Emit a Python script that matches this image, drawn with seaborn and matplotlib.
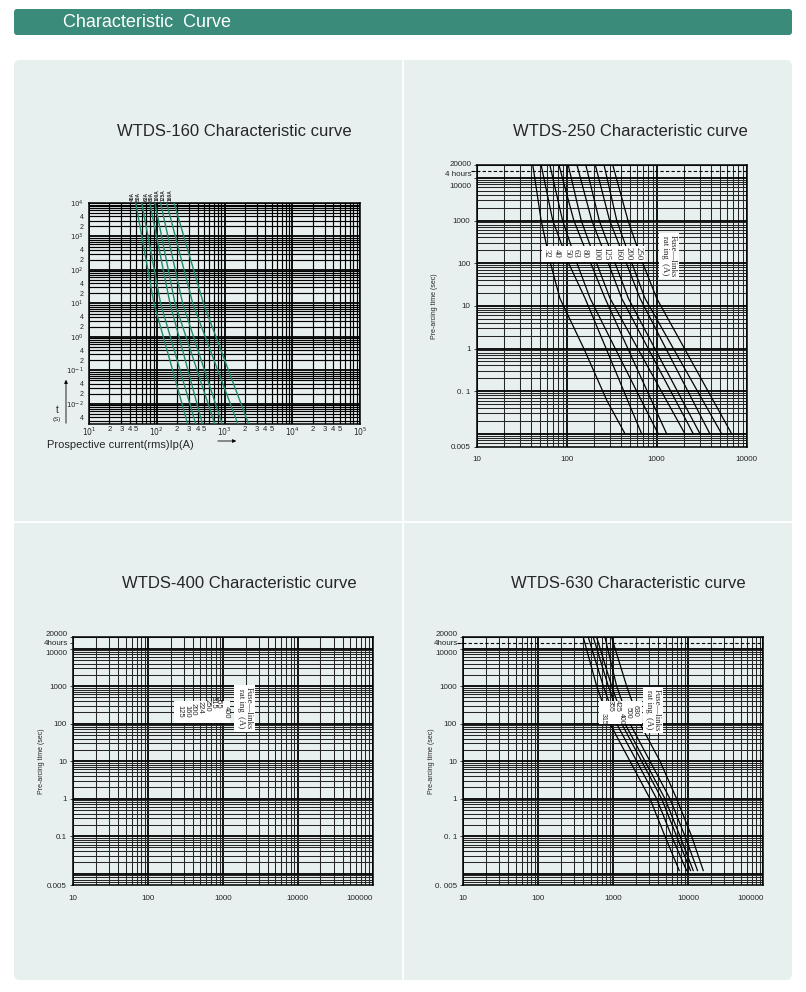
import numpy as np
import pandas as pd
import matplotlib
matplotlib.use("Agg")
import matplotlib.pyplot as plt
from matplotlib.patches import FancyBboxPatch, Rectangle
import seaborn as sns

W, H = 806, 992
PANEL = "#e8f0ef"
HEADER = "#3b8b7a"
GREEN = "#1f8a6e"

# ---- WTDS-160 (green lines, t at top / 10 s / bottom)
t160 = [1e4, 10, 2.5e-3]
ratings160 = ["40A", "50A", "63A", "80A", "100A", "125A", "160A"]
i160_top = [49, 60, 79, 94, 114, 140, 180]
i160_mid = [91, 114, 157, 186, 241, 340, 489]
i160_bot = [286, 376, 472, 719, 923, 1577, 2268]
xt160 = [10, 20, 30, 40, 50, 100, 200, 300, 400, 500, 1e3, 2e3, 3e3, 4e3, 5e3,
         1e4, 2e4, 3e4, 4e4, 5e4, 1e5]
xl160 = ["$10^1$", "2", "3", "4", "5", "$10^2$", "2", "3", "4", "5", "$10^3$", "2", "3",
         "4", "5", "$10^4$", "2", "3", "4", "5", "$10^5$"]
yt160 = [1e4, 4e3, 2e3, 1e3, 400, 200, 100, 40, 20, 10, 4, 2, 1, 0.4, 0.2, 0.1,
         0.04, 0.02, 0.01, 0.004]
yl160 = ["$10^4$", "4", "2", "$10^3$", "4", "2", "$10^2$", "4", "2", "$10^1$", "4", "2",
         "$10^0$", "4", "2", "$10^{-1}$", "4", "2", "$10^{-2}$", "4"]

# ---- WTDS-250
t250 = [20000, 1000, 100, 15, 1, 0.06, 0.01]
ratings250 = ["32", "40", "50", "63", "80", "100", "125", "160", "200", "250"]
i250 = {
    "32": [42, 52, 66, 84, 155, 280, 445],
    "40": [52, 70, 105, 160, 274, 477, 681],
    "50": [65, 90, 130, 182, 346, 677, 1040],
    "63": [82, 120, 185, 267, 478, 877, 1290],
    "80": [104, 145, 215, 303, 616, 1288, 2060],
    "100": [130, 190, 290, 408, 804, 1628, 2550],
    "125": [163, 230, 345, 484, 953, 1931, 3030],
    "160": [208, 300, 460, 653, 1265, 2516, 3900],
    "200": [260, 360, 530, 741, 1532, 3258, 5270],
    "250": [325, 480, 700, 1000, 2034, 4255, 6810],
}
lab250_x = [60, 77, 102, 127, 160, 215, 278, 372, 484, 623]
lab250_y = [169] * 10

# ---- WTDS-400 (labels only)
ratings400 = ["125", "160", "200", "224", "250", "315", "355", "400"]
lab400_x = [267, 327, 402, 493, 607, 743, 867, 1122]
lab400_y = [215, 215, 249, 265, 305, 361, 361, 203]

# ---- WTDS-630
t630 = [20000, 1000, 100, 10, 1, 0.1, 0.012]
ratings630 = ["315", "355", "400", "425", "500", "630"]
i630 = {
    "315": [398, 600, 903, 1668, 3083, 4882, 7590],
    "355": [464, 736, 1108, 2048, 3784, 5995, 9500],
    "400": [541, 858, 1292, 2386, 4406, 6985, 10740],
    "425": [600, 950, 1431, 2643, 4882, 7743, 11660],
    "500": [774, 1108, 1668, 3083, 5695, 9031, 13300],
    "630": [950, 1506, 2268, 4193, 6985, 11080, 15850],
}
lab630_x = [740, 900, 1300, 1130, 1560, 1930]
lab630_y = [138, 290, 138, 290, 190, 215]

yt_big = [20000, 14400, 10000, 1000, 100, 10, 1, 0.1, 0.005]

sns.set_style("white")
plt.rcParams["font.family"] = ["Liberation Sans", "DejaVu Sans"]
plt.rcParams["mathtext.fontset"] = "dejavusans"

fig = plt.figure(figsize=(W / 100, H / 100), dpi=100)
fig.patch.set_facecolor("white")

# background canvas in pixel coordinates
bg = fig.add_axes([0, 0, 1, 1])
bg.set_xlim(0, W)
bg.set_ylim(H, 0)
bg.axis("off")
bg.add_patch(FancyBboxPatch((14, 9), 778, 26, boxstyle="round,pad=0,rounding_size=3",
                            fc=HEADER, ec="none"))
bg.text(63, 22.5, "Characteristic  Curve", color="white", fontsize=13, va="center")
bg.add_patch(FancyBboxPatch((14, 60), 778, 920, boxstyle="round,pad=0,rounding_size=6",
                            fc=PANEL, ec="none"))
bg.plot([403, 403], [60, 980], color="white", lw=1.3)
bg.plot([14, 792], [522, 522], color="white", lw=1.3)
for cx, cy, title in [(234, 132, "WTDS-160 Characteristic curve"),
                      (630, 132, "WTDS-250 Characteristic curve"),
                      (239, 583, "WTDS-400 Characteristic curve"),
                      (628, 583, "WTDS-630 Characteristic curve")]:
    bg.text(cx, cy, title, ha="center", va="center", fontsize=12)


def px_axes(left, top, right, bottom):
    return fig.add_axes([left / W, 1 - bottom / H, (right - left) / W, (bottom - top) / H])


def log_grid(ax, xlo, xhi, ylo, yhi, major_lw=1.3, minor_lw=0.75, minor_col="#262626"):
    xl, xh = ax.get_xlim()
    yl, yh = ax.get_ylim()
    for k in range(xlo, xhi + 1):
        for m in range(1, 10):
            v = m * 10.0 ** k
            if xl <= v <= xh:
                ax.axvline(v, color="k" if m == 1 else minor_col,
                           lw=major_lw if m == 1 else minor_lw, zorder=1)
    for k in range(ylo, yhi + 1):
        for m in range(1, 10):
            v = m * 10.0 ** k
            if yl <= v <= yh:
                ax.axhline(v, color="k" if m == 1 else minor_col,
                           lw=major_lw if m == 1 else minor_lw, zorder=1)


def setup(ax, xlim, ylim):
    ax.set_xscale("log")
    ax.set_yscale("log")
    ax.set_xlim(*xlim)
    ax.set_ylim(*ylim)
    ax.set_facecolor(PANEL)
    ax.minorticks_off()
    for s in ax.spines.values():
        s.set_color("k")
        s.set_linewidth(1.1)


# ================= WTDS-160
ax1 = px_axes(89, 203, 360, 424)
setup(ax1, (10, 1e5), (2.5e-3, 1e4))
log_grid(ax1, 1, 5, -3, 4, major_lw=1.3, minor_lw=0.85, minor_col="k")
for i, r in enumerate(ratings160):
    sns.lineplot(x=[i160_top[i], i160_mid[i], i160_bot[i]], y=t160, ax=ax1,
                 color=GREEN, lw=1.0, sort=False, estimator=None, zorder=3)
    ax1.text(i160_top[i] * 0.88, 1.01, r, rotation=90, fontsize=3.5, fontweight="bold",
             ha="center", va="bottom", transform=ax1.get_xaxis_transform())
ax1.set_xticks(xt160)
ax1.set_xticklabels(xl160, fontsize=5.5)
ax1.set_yticks(yt160)
ax1.set_yticklabels(yl160, fontsize=5)
ax1.tick_params(axis="both", length=0, pad=1.5)
ax1.tick_params(axis="y", pad=4)
ax1.set_xlabel("")
ax1.set_ylabel("")
bg.text(57, 410, "t", fontsize=7, ha="center", va="center")
bg.text(57, 420, "(S)", fontsize=4.5, ha="center", va="center")
bg.annotate("", xy=(66, 377), xytext=(66, 426),
            arrowprops=dict(arrowstyle="-|>", lw=0.6, color="k", mutation_scale=5))
bg.text(47, 445, "Prospective current(rms)Ip(A)", fontsize=8, va="center")
bg.annotate("", xy=(239, 441), xytext=(215, 441),
            arrowprops=dict(arrowstyle="-|>", lw=0.6, color="k", mutation_scale=5))


def big_axes(ax, xlim, ylabels, top_labels, top_px, left_px, xlabels, xticks, ylab_x,
             dashed=True):
    setup(ax, xlim, (0.005, 20000))
    log_grid(ax, 1, int(np.log10(xlim[1])), -3, 4)
    if dashed:
        ax.axhline(14400, color="k", lw=0.8, ls=(0, (3, 2)), zorder=4,
                   xmin=-0.02, clip_on=False)
    ax.set_yticks(yt_big)
    ax.set_yticklabels([""] * (len(yt_big) - len(ylabels)) + ylabels, fontsize=5.8)
    # the stacked top labels (20000 / 4 hours / 10000) sit in pixel positions
    for lab, y in zip(top_labels, top_px):
        bg.text(left_px - 5.5, y, lab, ha="right", va="center", fontsize=5.8)
    ax.set_xticks(xticks)
    ax.set_xticklabels(xlabels, fontsize=5.8)
    ax.tick_params(axis="y", length=2.5, width=0.6, pad=2, direction="out", left=True)
    ax.tick_params(axis="x", length=0, pad=7)
    ax.set_xlabel("")
    ax.set_ylabel("Pre-arcing time (sec)", fontsize=5)
    ax.yaxis.set_label_coords(ylab_x, 0.5)


def fuse_box(ax, x, y):
    ax.text(x, y, "Fuse\u2014links\nrat ing  (A)", rotation=-90, fontsize=6.3,
            family=["Liberation Serif", "DejaVu Serif"], ha="center", va="center",
            zorder=6, linespacing=1.0,
            bbox=dict(fc="white", ec="none", pad=1.5))


def rating_box(ax, x0, x1, y0, y1):
    ax.add_patch(Rectangle((x0, y0), x1 - x0, y1 - y0, fc="white", ec="none", zorder=5))


# ================= WTDS-250
ax2 = px_axes(476.7, 165, 746.7, 446.7)
big_axes(ax2, (10, 1e4),
         ["1000", "100", "10", "1", "0. 1", "0.005"],
         ["20000", "4 hours", "10000"], [164, 174, 186], 476.7,
         ["10", "100", "1000", "10000"], [10, 100, 1000, 10000], -0.143)
for r in ratings250:
    sns.lineplot(x=i250[r], y=t250, ax=ax2, color="k", lw=0.9, sort=False,
                 estimator=None, zorder=3)
rating_box(ax2, 52.7, 741, 108, 249)
for r, x, y in zip(ratings250, lab250_x, lab250_y):
    ax2.text(x, y, r, rotation=-90, fontsize=6.3, ha="center", va="center", zorder=6,
             family=["Liberation Serif", "DejaVu Serif"])
fuse_box(ax2, 1376, 149)

# ================= WTDS-400
ax3 = px_axes(73.3, 637.3, 372.7, 885)
big_axes(ax3, (10, 1e5),
         ["1000", "100", "10", "1", "0.1", "0.005"],
         ["20000", "4hours", "10000"], [635, 643.3, 653.5], 73.3,
         ["10", "100", "1000", "10000", "100000"], [10, 100, 1000, 1e4, 1e5], -0.095,
         dashed=False)
ax3.get_xticklabels()[-1].set_horizontalalignment("right")
rating_box(ax3, 222, 1242, 106, 398)
for r, x, y in zip(ratings400, lab400_x, lab400_y):
    ax3.text(x, y, r, rotation=-90, fontsize=5.5, ha="center", va="center", zorder=6)
fuse_box(ax3, 1941, 251)

# ================= WTDS-630
ax4 = px_axes(463.3, 637.3, 763.3, 885)
big_axes(ax4, (10, 1e5),
         ["1000", "100", "10", "1", "0. 1", "0. 005"],
         ["20000", "4hours", "10000"], [635, 643.3, 653.5], 463.3,
         ["10", "100", "1000", "10000", "100000"], [10, 100, 1000, 1e4, 1e5], -0.094)
ax4.get_xticklabels()[-1].set_horizontalalignment("right")
for r in ratings630:
    sns.lineplot(x=i630[r], y=t630, ax=ax4, color="k", lw=0.9, sort=False,
                 estimator=None, zorder=3)
rating_box(ax4, 650, 2420, 100, 398)
for r, x, y in zip(ratings630, lab630_x, lab630_y):
    ax4.text(x, y, r, rotation=-90, fontsize=5, ha="center", va="center", zorder=6)
fuse_box(ax4, 3345, 231)

fig.savefig("out.png", dpi=100, facecolor="white")
